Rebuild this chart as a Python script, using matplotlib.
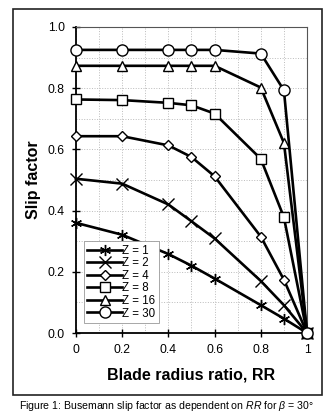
import matplotlib
matplotlib.use("Agg")
import matplotlib.pyplot as plt
from matplotlib.patches import Rectangle

plt.rcParams['font.family'] = ['Liberation Sans', 'DejaVu Sans']
plt.rcParams['mathtext.fontset'] = 'custom'
plt.rcParams['mathtext.it'] = 'Liberation Sans:italic'
plt.rcParams['mathtext.rm'] = 'Liberation Sans'

# blade radius ratio
rr = [0, 0.2, 0.4, 0.5, 0.6, 0.8, 0.9, 1.0]

# slip factor per blade number
z1 = [0.360, 0.321, 0.258, 0.220, 0.178, 0.091, 0.047, 0.0]
z2 = [0.504, 0.488, 0.420, 0.365, 0.309, 0.170, 0.091, 0.0]
z4 = [0.643, 0.643, 0.613, 0.575, 0.512, 0.315, 0.174, 0.0]
z8 = [0.763, 0.761, 0.752, 0.744, 0.717, 0.569, 0.378, 0.0]
z16 = [0.873, 0.873, 0.873, 0.873, 0.873, 0.802, 0.621, 0.0]
z30 = [0.925, 0.925, 0.925, 0.925, 0.925, 0.913, 0.793, 0.0]

labels = ["Z = 1", "Z = 2", "Z = 4", "Z = 8", "Z = 16", "Z = 30"]
series = [z1, z2, z4, z8, z16, z30]
markers = [(6, 2, 0), "x", "D", "s", "^", "o"]
msizes = [8, 8, 5.5, 7, 7.5, 8]

fig = plt.figure(figsize=(3.33, 4.17), dpi=100)
fig.patches.append(Rectangle((0.039, 0.053), 0.928, 0.926, transform=fig.transFigure,
                             fill=False, edgecolor="#222222", linewidth=1.2))

ax = fig.add_axes([0.228, 0.2014, 0.694, 0.734])
for y, lab, m, ms in zip(series, labels, markers, msizes):
    ax.plot(rr, y, color="black", linewidth=1.9, marker=m, markersize=ms,
            markerfacecolor="white", markeredgecolor="black", markeredgewidth=1.0,
            label=lab, clip_on=False, zorder=3)

ax.set_xlim(0, 1)
ax.set_ylim(0, 1)
ax.set_xticks([0, 0.2, 0.4, 0.6, 0.8, 1.0])
ax.set_xticklabels(["0", "0.2", "0.4", "0.6", "0.8", "1"])
ax.set_yticks([0, 0.2, 0.4, 0.6, 0.8, 1.0])
ax.set_yticklabels(["0.0", "0.2", "0.4", "0.6", "0.8", "1.0"])
ax.set_xticks([i / 10 for i in range(11)], minor=True)
ax.set_yticks([i / 10 for i in range(11)], minor=True)
ax.grid(which="both", color="#bbbbbb", linestyle=":", linewidth=0.7)
ax.set_axisbelow(True)
ax.tick_params(which="major", direction="inout", length=6, width=1, labelsize=8.8,
               pad=5, colors="black")
ax.tick_params(which="minor", length=0)
for s in ["left", "bottom"]:
    ax.spines[s].set_linewidth(1.3)
for s in ["top", "right"]:
    ax.spines[s].set_linewidth(0.8)
    ax.spines[s].set_color("#555555")

ax.set_xlabel("Blade radius ratio, RR", fontsize=11.5, fontweight="bold", labelpad=8)
ax.set_ylabel("Slip factor", fontsize=11.5, fontweight="bold", labelpad=5)

leg = ax.legend(loc="upper left", bbox_to_anchor=(0.035, 0.3), fontsize=8.3,
                handlelength=3.0, handletextpad=0.0, labelspacing=0.05,
                borderpad=0.3, fancybox=False, framealpha=1.0, borderaxespad=0)
leg.get_frame().set_edgecolor("#999999")
leg.get_frame().set_linewidth(0.6)

fig.text(0.5, 0.027, r"Figure 1: Busemann slip factor as dependent on $RR$ for $\beta$ = 30°",
         ha="center", va="center", fontsize=7.6)

fig.savefig("out.png", dpi=100)
